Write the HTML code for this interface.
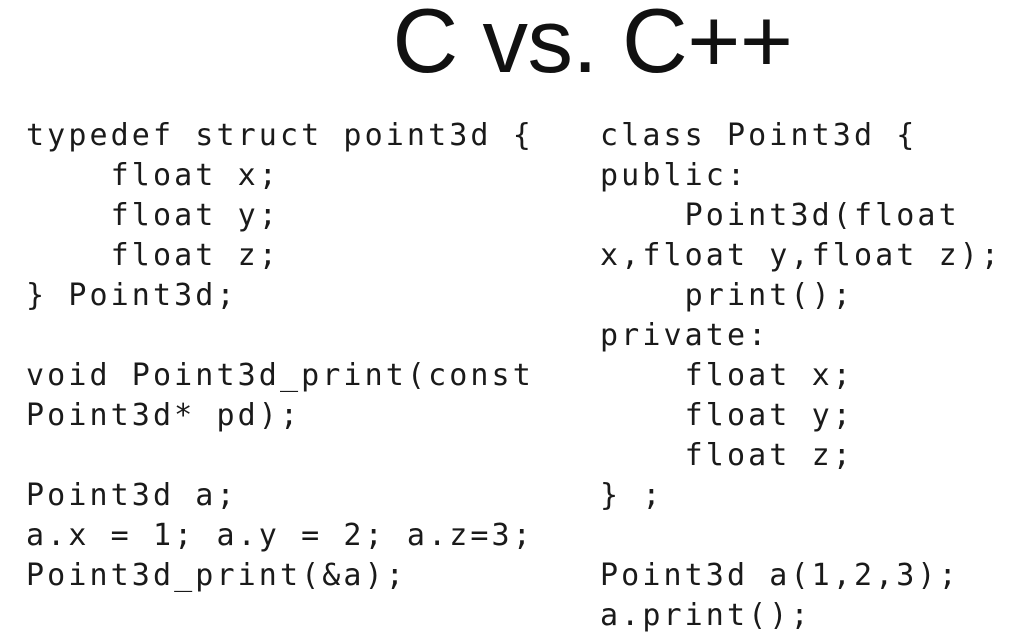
<!DOCTYPE html>
<html><head><style>
body{margin:0;width:1029px;height:639px;background:#fff;overflow:hidden;position:relative}
h1{position:absolute;left:0;width:1029px;top:-8px;margin:0;text-align:center;padding-left:156px;box-sizing:border-box;font:91px "Liberation Sans",sans-serif;color:#111;line-height:100px;letter-spacing:-0.5px}
pre{position:absolute;margin:0;font-family:"DejaVu Sans Mono",monospace;font-size:30px;letter-spacing:3.1px;line-height:40px;color:#1a1a1a}
</style></head><body>
<h1>C vs. C++</h1>
<pre style="left:26px;top:116px">typedef struct point3d {
    float x;
    float y;
    float z;
} Point3d;

void Point3d_print(const
Point3d* pd);

Point3d a;
a.x = 1; a.y = 2; a.z=3;
Point3d_print(&amp;a);</pre>
<pre style="left:600px;top:116px">class Point3d {
public:
    Point3d(float
x,float y,float z);
    print();
private:
    float x;
    float y;
    float z;
} ;

Point3d a(1,2,3);
a.print();</pre>
</body></html>
